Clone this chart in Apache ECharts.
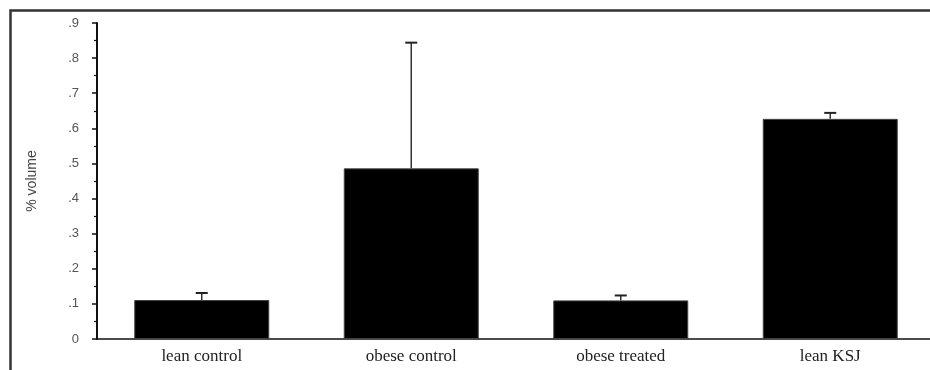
<!DOCTYPE html>
<html><head><meta charset="utf-8">
<script src="https://cdn.jsdelivr.net/npm/echarts@6/dist/echarts.min.js"></script>
<style>html,body{margin:0;padding:0;background:#fff;overflow:hidden;width:930px;height:370px}#c{width:940px;height:370px}</style>
</head><body><div id="c"></div>
<script>
const categories = ['lean control', 'obese control', 'obese treated', 'lean KSJ'];
const means = [0.111, 0.486, 0.110, 0.627];
const errors = [0.020, 0.358, 0.014, 0.017];
const yTicks = [0, 0.1, 0.2, 0.3, 0.4, 0.5, 0.6, 0.7, 0.8, 0.9];

const chart = echarts.init(document.getElementById('c'), null, {renderer: 'canvas'});
chart.setOption({
  animation: false,
  backgroundColor: '#fff',
  grid: {left: 97, right: 5, top: 23, bottom: 31, containLabel: false},
  graphic: [{
    type: 'rect', shape: {x: 10.5, y: 10.5, width: 940, height: 380},
    style: {fill: 'none', stroke: '#333', lineWidth: 2.5}, z: 100
  }],
  xAxis: {
    type: 'category', data: categories,
    axisLine: {lineStyle: {color: '#111', width: 1.5}},
    axisTick: {alignWithLabel: true, length: 5, lineStyle: {color: '#111', width: 1.5}},
    axisLabel: {color: '#222', fontFamily: 'Liberation Serif', fontSize: 17, margin: 9}
  },
  yAxis: {
    type: 'value', min: 0, max: 0.9, interval: 0.1,
    name: '% volume', nameLocation: 'middle', nameGap: 58, nameRotate: 90,
    nameTextStyle: {color: '#444', fontFamily: 'Liberation Sans', fontSize: 14},
    splitLine: {show: false},
    axisLine: {show: true, lineStyle: {color: '#111', width: 2}},
    axisTick: {show: true, length: 5, lineStyle: {color: '#111', width: 1.5}},
    minorTick: {show: true, splitNumber: 2, length: 3, lineStyle: {color: '#111', width: 1.2}},
    axisLabel: {
      color: '#555', fontFamily: 'Liberation Sans', fontSize: 13, margin: 18,
      formatter: v => {
        const t = yTicks.find(x => Math.abs(x - v) < 1e-6);
        if (t === undefined) return '';
        return t === 0 ? '0' : t.toFixed(1).replace(/^0/, '');
      }
    }
  },
  series: [{
    type: 'bar', data: means, barWidth: 135,
    itemStyle: {color: '#000', borderColor: '#444', borderWidth: 1}
  }, {
    type: 'custom',
    data: means.map((m, i) => [i, m, m + errors[i]]),
    renderItem: (params, api) => {
      const lo = api.coord([api.value(0), api.value(1)]);
      const hi = api.coord([api.value(0), api.value(2)]);
      const hw = 6;
      return {
        type: 'group', children: [
          {type: 'line', shape: {x1: lo[0], y1: lo[1], x2: hi[0], y2: hi[1]}, style: {stroke: '#333', lineWidth: 1.5}},
          {type: 'line', shape: {x1: hi[0] - hw, y1: hi[1], x2: hi[0] + hw, y2: hi[1]}, style: {stroke: '#222', lineWidth: 2}}
        ]
      };
    },
    z: 5
  }]
});
</script></body></html>
